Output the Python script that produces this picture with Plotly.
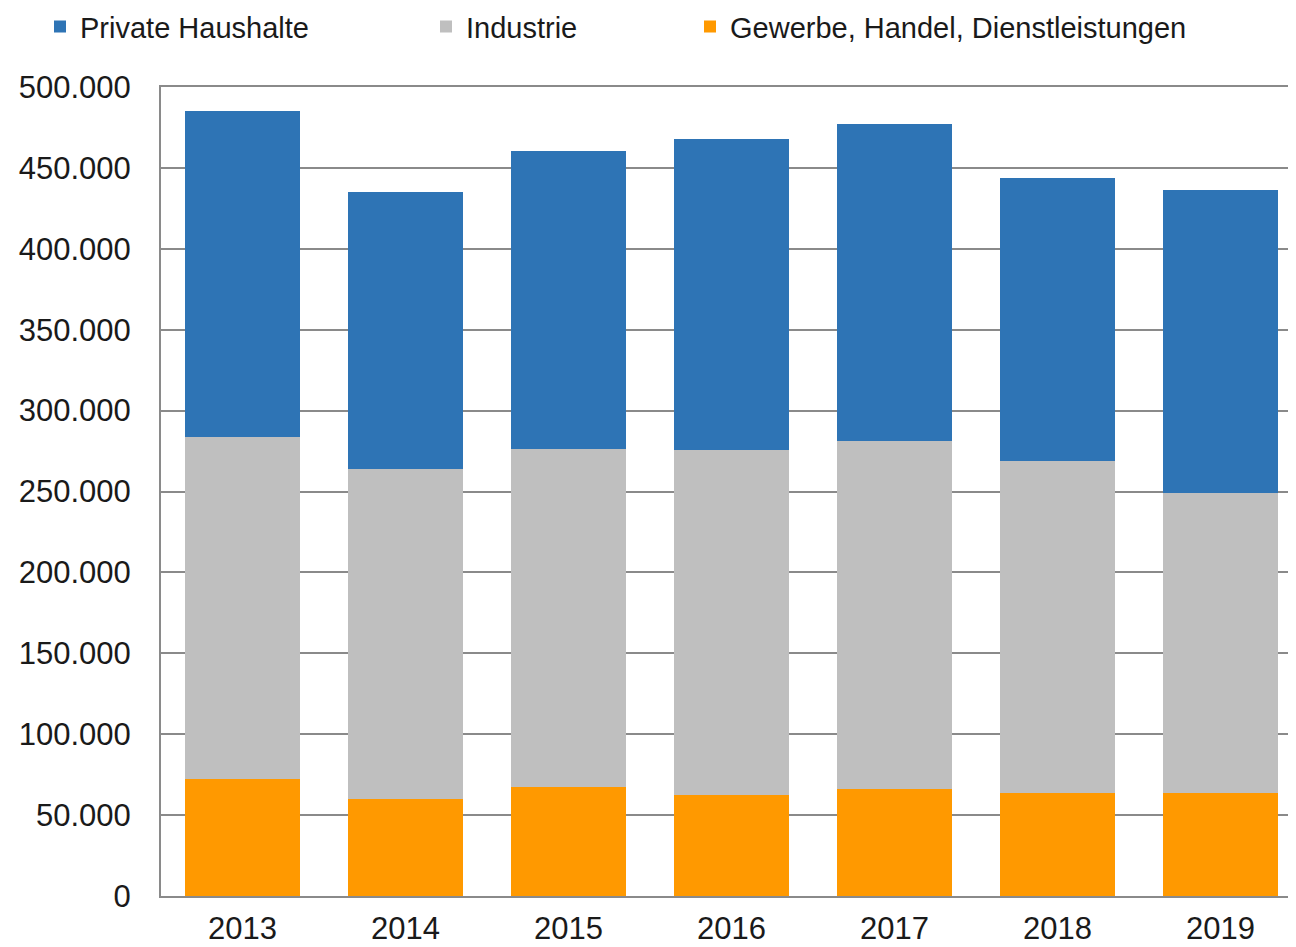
import plotly.graph_objects as go

years = ["2013", "2014", "2015", "2016", "2017", "2018", "2019"]
gewerbe = [72300, 60000, 67400, 62400, 66100, 63700, 63700]
industrie = [211400, 203900, 208900, 213200, 215100, 205200, 185400]
haushalte = [201500, 171200, 184100, 192300, 195900, 174900, 187200]

names = ["Private Haushalte", "Industrie", "Gewerbe, Handel, Dienstleistungen"]
colors = ["#2E74B5", "#BFBFBF", "#FF9900"]

font = "Liberation Sans, Arial, sans-serif"

fig = go.Figure()
fig.add_trace(go.Bar(x=years, y=gewerbe, name=names[2], marker=dict(color=colors[2], line=dict(width=0)), legend="legend3"))
fig.add_trace(go.Bar(x=years, y=industrie, name=names[1], marker=dict(color=colors[1], line=dict(width=0)), legend="legend2"))
fig.add_trace(go.Bar(x=years, y=haushalte, name=names[0], marker=dict(color=colors[0], line=dict(width=0)), legend="legend"))

# page has 8px body margin; figure sized to fit the 1296x947 window
fig_w, fig_h = 1288, 939
m_l, m_t, m_b, m_r = 153, 79, 51, 0
plot_left_page = 8 + m_l
plot_w = fig_w - m_l - m_r
cat_px = 163.0

leg_common = dict(yanchor="middle", y=1.0745, xanchor="left", bgcolor="rgba(0,0,0,0)",
                  font=dict(family=font, size=29, color="#1a1a1a"), itemwidth=30,
                  borderwidth=0, orientation="h", visible=True)

fig.update_layout(
    width=fig_w, height=fig_h,
    margin=dict(l=m_l, r=m_r, t=m_t, b=m_b, autoexpand=False),
    paper_bgcolor="white", plot_bgcolor="white",
    barmode="stack", bargap=0.29,
    separators=",.",
    showlegend=True,
    font=dict(family=font, size=31, color="#1a1a1a"),
    legend=dict(x=(40 - plot_left_page) / plot_w, **leg_common),
    legend2=dict(x=(426 - plot_left_page) / plot_w, **leg_common),
    legend3=dict(x=(690 - plot_left_page) / plot_w, **leg_common),
    xaxis=dict(range=[-0.5, -0.5 + plot_w / cat_px], showgrid=False, showline=True, mirror=True,
               linecolor="#8a8a8a", linewidth=2, ticks="", ticklabelstandoff=4,
               tickfont=dict(family=font, size=31, color="#1a1a1a")),
    yaxis=dict(range=[0, 500000], tickvals=[0, 50000, 100000, 150000, 200000, 250000, 300000, 350000, 400000, 450000, 500000],
               tickformat=",d", showgrid=True, gridcolor="#8a8a8a", gridwidth=2,
               showline=True, linecolor="#8a8a8a", linewidth=2, zeroline=False,
               ticks="", ticklabelstandoff=22,
               tickfont=dict(family=font, size=31, color="#1a1a1a")),
)

fig.write_html("out.html")
